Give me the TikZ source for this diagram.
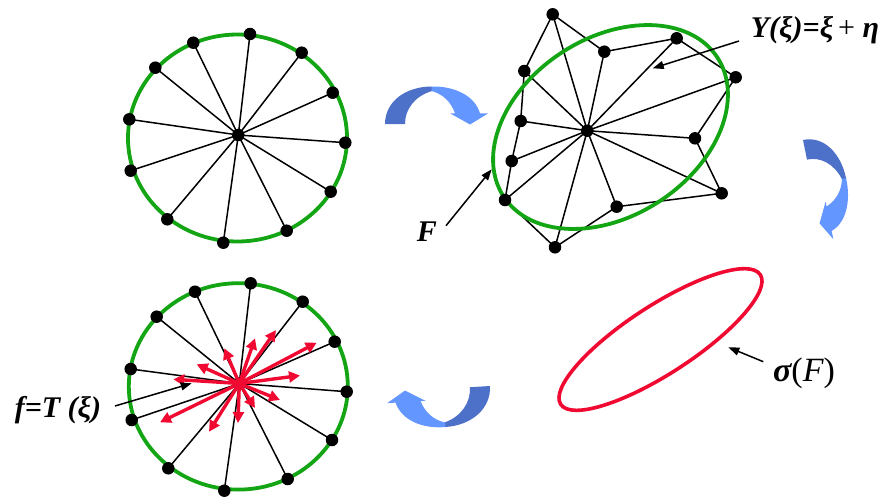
\documentclass[tikz,border=0pt]{standalone}
\usepackage{fontspec}
\setmainfont{Liberation Serif}
\usetikzlibrary{arrows.meta}
\definecolor{cgreen}{RGB}{20,165,20}
\definecolor{cred}{RGB}{240,10,50}
\definecolor{bdark}{RGB}{77,112,200}
\definecolor{blight}{RGB}{100,150,255}
\newcommand\bluecurve{%
  \fill[bdark] (0,0) .. controls (0,22) and (20,37.5) .. (47,37.5) -- (47,33) .. controls (30,28) and (20,15) .. (20,0) -- cycle;
  \fill[blight] (46.5,37.5) .. controls (70,38) and (90,28) .. (95,10.7) -- (103.3,10.7) -- (85,-0.5) -- (65,10.7) -- (70,10.7) .. controls (66,22) and (58,30) .. (46.5,33) -- cycle;}
\begin{document}
\begin{tikzpicture}[x=1pt,y=1pt,
  dot/.style={circle,fill=black,inner sep=0pt,minimum size=12.5pt},
  spoke/.style={draw=black,line width=1.5pt},
  ring/.style={draw=cgreen,line width=3.8pt},
  redarr/.style={draw=cred,line width=3.4pt,-{Triangle[length=11pt,width=11pt]}},
  labarr/.style={draw=black,line width=1.5pt,-{Triangle[length=11pt,width=8pt]}},
  lab/.style={font=\fontsize{30}{32}\selectfont\bfseries\itshape,inner sep=0pt}]
\useasboundingbox (0,0) rectangle (887,-498);
% ---------- top-left circle
\coordinate (ca) at (238.3,-135);
\foreach \i/\x/\y in {1/250/34,2/193.3/42.7,3/155.3/67.7,4/129.3/119.3,5/130.7/170.7,6/167.3/219.3,7/223.3/242.7,8/286.7/230.7,9/330.7/191.7,10/345.3/142.7,11/332.7/92.7,12/301.7/52.7}
  \coordinate (a\i) at (\x,-\y);
\foreach \i in {1,...,12} \draw[spoke] (ca) -- (a\i);
\draw[ring] (237.5,-138) ellipse [x radius=109.5, y radius=103.5];
\foreach \i in {1,...,12} \node[dot] (na\i) at (a\i) {};
\node[dot] (nca) at (ca) {};
% ---------- top-right graph
\coordinate (cb) at (587.3,-130.7);
\foreach \i/\x/\y in {1/552.7/14.3,2/604.3/51.7,3/676.7/38.3,4/735.7/77.3,5/695/138.3,6/721.7/193.3,7/616.7/206.7,8/555/247.3,9/505/200,10/511.7/161,11/520.7/121,12/524.3/71}
  \coordinate (b\i) at (\x,-\y);
\foreach \i in {1,...,12} \draw[spoke] (cb) -- (b\i);
\draw[spoke] (b1) -- (b2) -- (b3) -- (b4) -- (b5) -- (b6) -- (b7) -- (b8) -- (b9) -- (b10) -- (b11) -- (b12) -- cycle;
\draw[ring, rotate around={33:(610.5,-127)}] (610.5,-127) ellipse [x radius=127.5, y radius=89];
\foreach \i in {1,...,12} \node[dot] (nb\i) at (b\i) {};
\node[dot] (ncb) at (cb) {};
% ---------- bottom-left circle
\coordinate (cd) at (239.3,-383.5);
\foreach \i/\x/\y in {1/250.7/283.3,2/195/291.7,3/156.7/316.7,4/130.7/369,5/131.7/420,6/168.3/468.3,7/224.3/490.7,8/287.7/479,9/332/440,10/346.7/391.7,11/334.7/341.7,12/302.7/301.7}
  \coordinate (d\i) at (\x,-\y);
\foreach \i in {1,...,12} \draw[spoke] (cd) -- (d\i);
\draw[ring] (238.3,-386.4) ellipse [x radius=109.5, y radius=103.2];
\foreach \i in {1,...,12} \node[dot] (nd\i) at (d\i) {};
\node[dot] (ncd) at (cd) {};
\foreach \i/\x/\y in {1/316.7/342.7,2/276/330,3/255/338.3,4/224.3/348.3,5/196.7/364.3,6/173.3/379.3,7/160/422.3,8/209/431.7,9/238/423,10/255/408,11/280/400,12/300/375.5}
  {\coordinate (r\i) at (\x,-\y); \draw[redarr] (cd) -- (r\i);}
% ---------- red ellipse
\draw[draw=cred,line width=3.6pt, rotate around={33:(660.5,-339.5)}] (660.5,-339.5) ellipse [x radius=119, y radius=34];
% ---------- blue curved arrows
\begin{scope}[cm={1,0,0,1,(385,-124)}]\bluecurve\end{scope}
\begin{scope}[cm={0.2,-0.98,0.9,0.2,(803,-140)}]\bluecurve\end{scope}
\begin{scope}[cm={-1,-0.06,0.05,-1.02,(490,-386)}]\bluecurve\end{scope}
% ---------- labels
\node[lab] (ylab) at (815,-30) {Y(ξ)=ξ{\normalfont\,+} η};
\node[lab] (flab) at (58,-410) {f=T (ξ)};
\node[lab] (Flab) at (427,-232) {F};
\node[lab,font=\fontsize{34}{36}\selectfont\bfseries\itshape] (slab) at (804,-373) {σ{\normalfont(}{\mdseries F}{\normalfont)}};
\coordinate (ys) at (739,-41); \coordinate (yt) at (652.7,-68.3);
\draw[labarr] (ys) -- (yt);
\coordinate (fs) at (115,-406); \coordinate (ft) at (191.7,-383.3);
\draw[labarr] (fs) -- (ft);
\coordinate (Fs) at (446,-225.7); \coordinate (Ft) at (491.7,-169.3);
\draw[labarr] (Fs) -- (Ft);
\coordinate (ss) at (763.3,-361.7); \coordinate (st) at (728.3,-347.3);
\draw[labarr] (ss) -- (st);
\end{tikzpicture}
\end{document}
